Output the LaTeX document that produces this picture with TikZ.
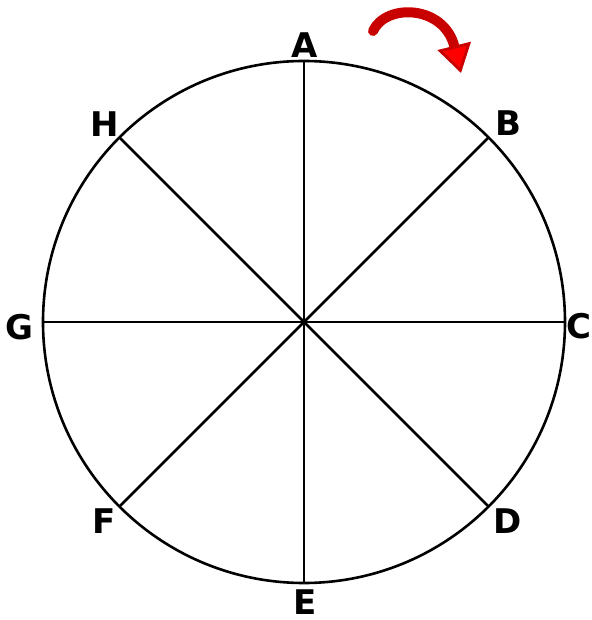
\documentclass[tikz,border=0pt]{standalone}
\usepackage{fontspec}
\usepackage{tikz}
\usetikzlibrary{arrows.meta}
\newfontfamily\dialfont{DejaVu Sans}
\definecolor{TurnRed}{HTML}{FF0000}
\definecolor{TurnDark}{HTML}{C80000}

\begin{document}
\begin{tikzpicture}[
  x=1pt,y=1pt,
  every node/.style={font=\dialfont\bfseries\fontsize{34}{40}\selectfont,inner sep=0pt},
  rim/.style={draw,line width=2.6pt},
  spoke/.style={line width=2.6pt},
  turn/.style={TurnDark,line width=10pt,line cap=round,
               -{Triangle[length=28pt,width=34pt,line width=2.8pt,fill=TurnRed,color=TurnDark]}}
]
  \useasboundingbox (-304,-298) rectangle (287,322);

  \coordinate (o) at (0,0);
  \draw[rim] (o) circle (261);

  \coordinate (pA) at (90:261);
  \coordinate (pB) at (45:261);
  \coordinate (pC) at (0:261);
  \coordinate (pD) at (-45:261);
  \coordinate (pE) at (-90:261);
  \coordinate (pF) at (-135:261);
  \coordinate (pG) at (180:261);
  \coordinate (pH) at (135:261);

  \draw[spoke] (pA) -- (pE);
  \draw[spoke] (pB) -- (pF);
  \draw[spoke] (pC) -- (pG);
  \draw[spoke] (pD) -- (pH);

  \node (A) at (1,277) {A};
  \node (B) at (204,199) {B};
  \node (C) at (275,-4) {C};
  \node (D) at (204,-199) {D};
  \node (E) at (1,-280) {E};
  \node (F) at (-200,-199) {F};
  \node (G) at (-285,-5) {G};
  \node (H) at (-199,198) {H};

  % direction of rotation
  \coordinate (turnS) at (69,291);
  \coordinate (turnE) at (157,249);
  \draw[turn] (turnS) .. controls (82,319) and (140,317) .. (turnE);
\end{tikzpicture}
\end{document}
